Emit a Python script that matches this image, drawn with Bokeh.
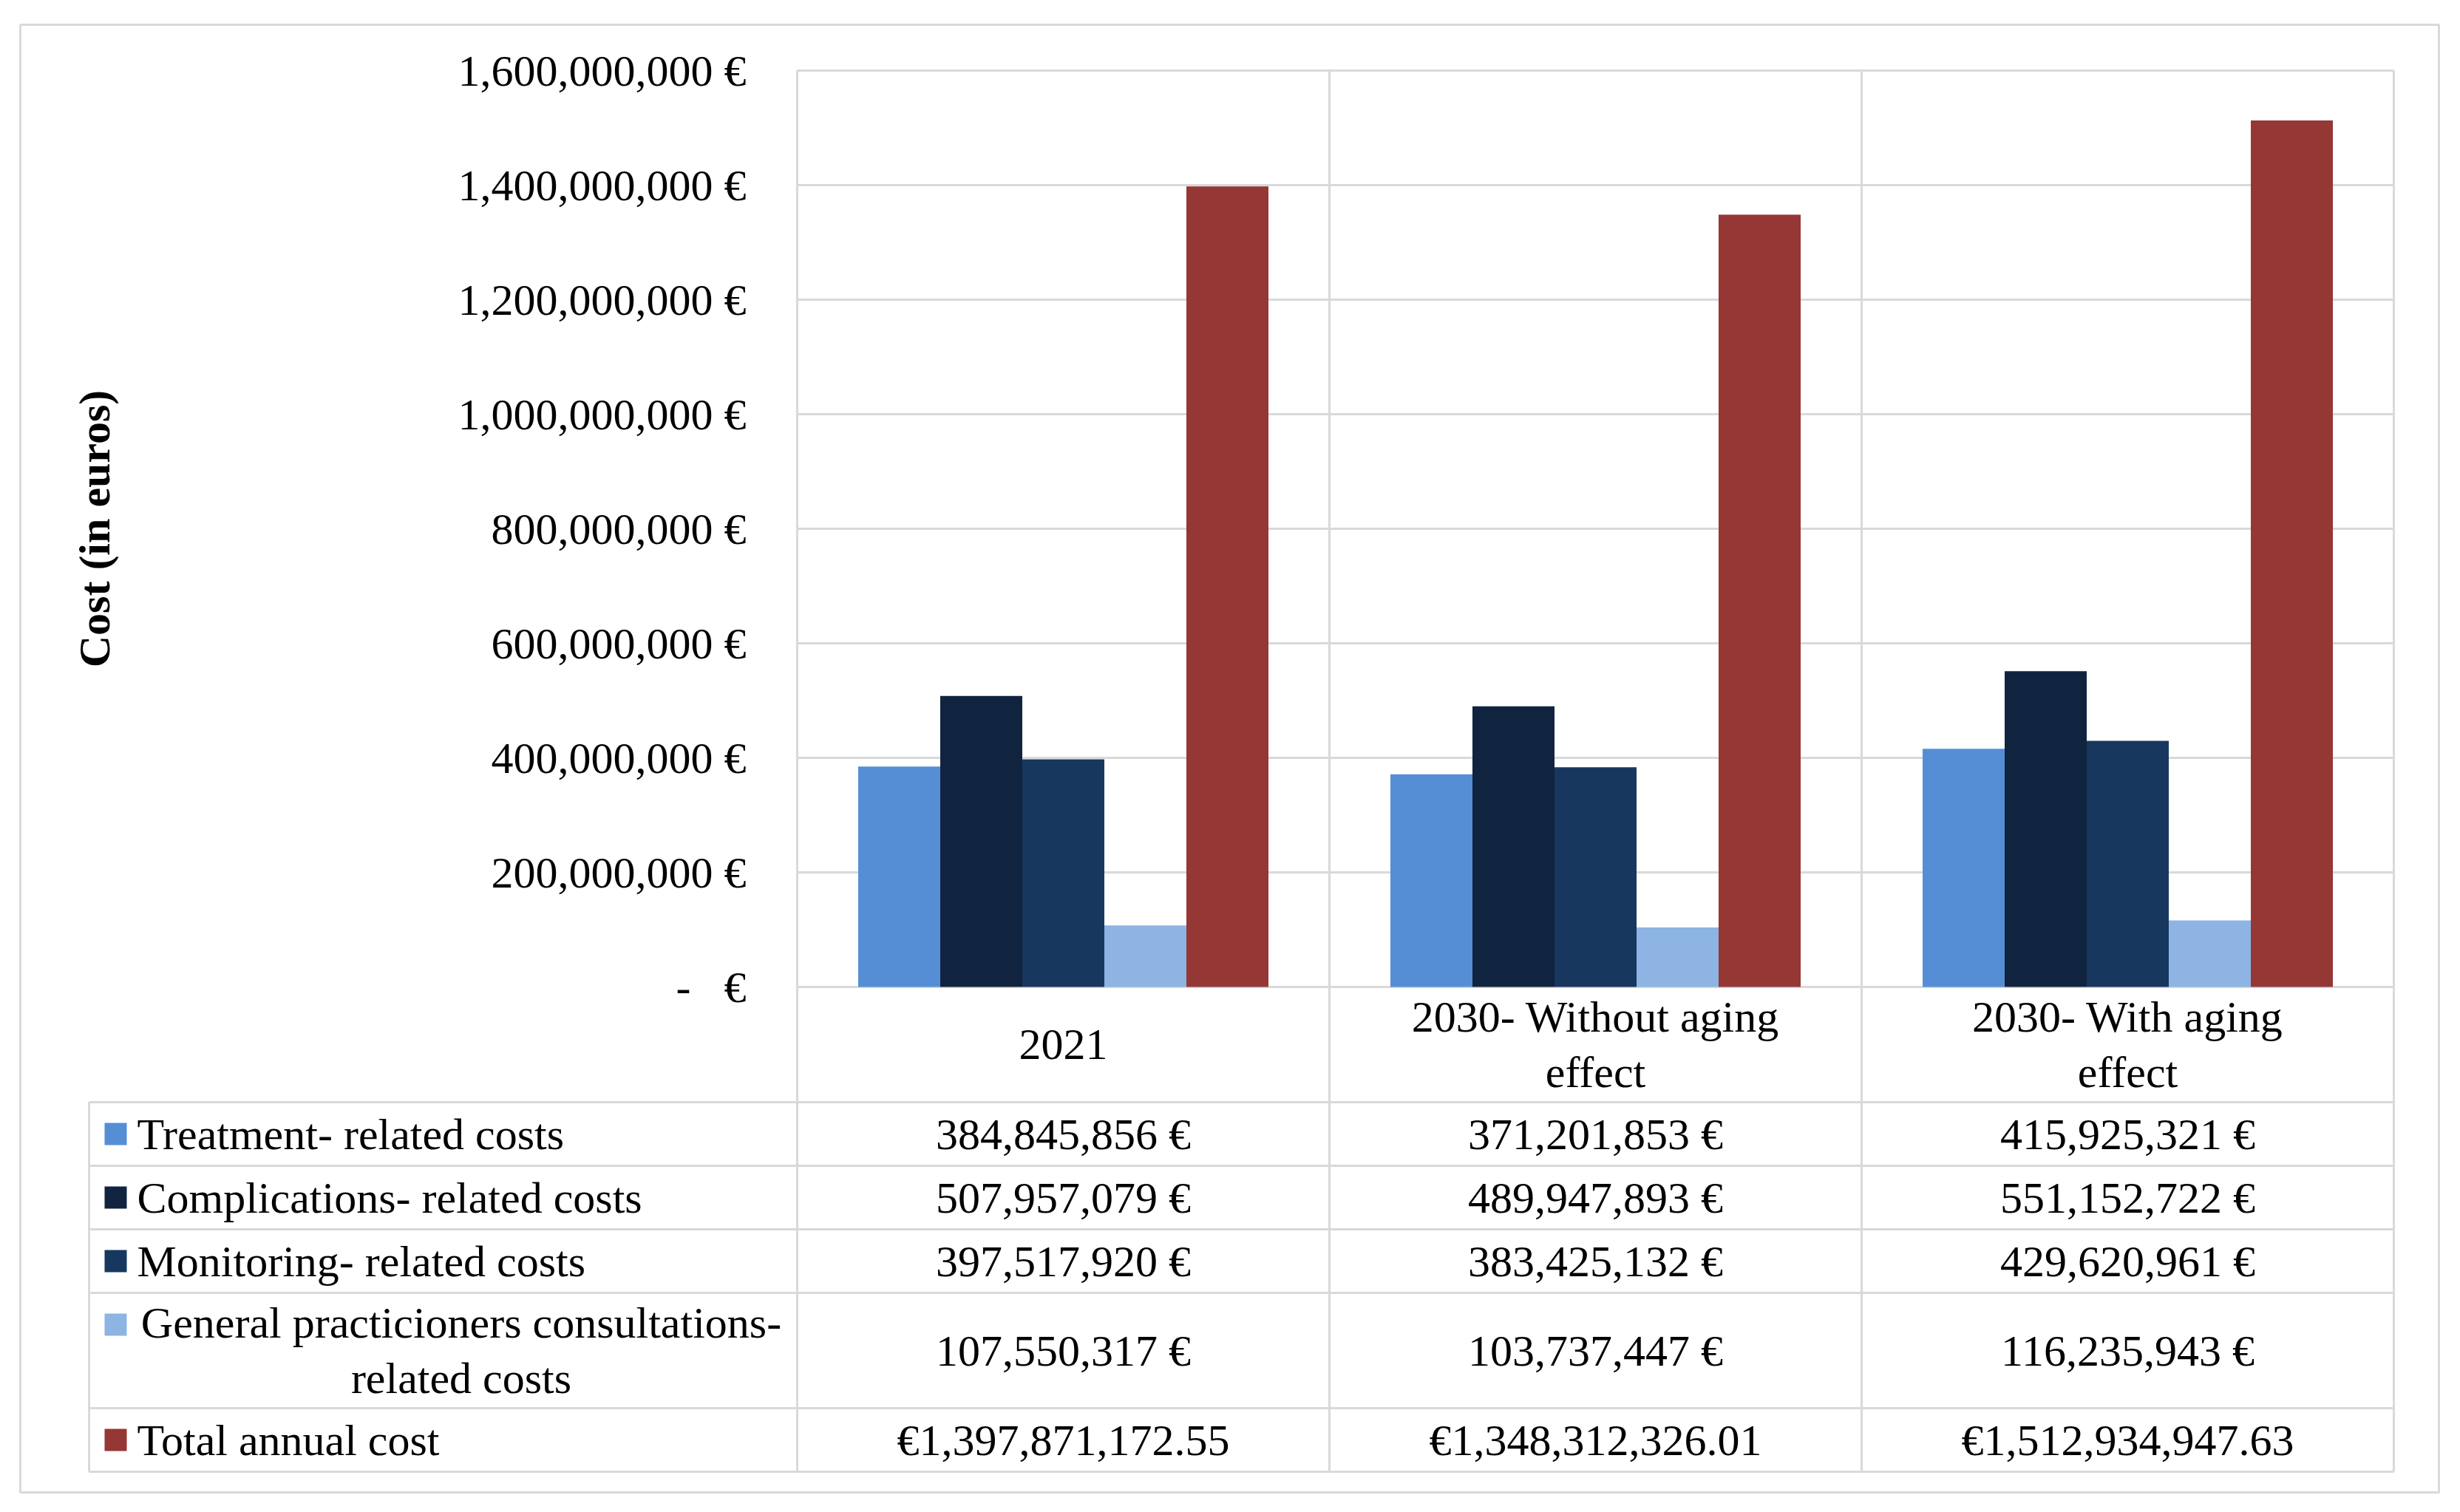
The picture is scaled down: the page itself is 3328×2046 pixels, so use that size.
from bokeh.plotting import figure
from bokeh.models import Range1d, LinearAxis, FixedTicker
from bokeh.embed import file_html
from bokeh.resources import INLINE
from bokeh.core.properties import value

# ---------------- data ----------------
categories = ["2021", "2030- Without aging\neffect", "2030- With aging\neffect"]
series_names = [
    "Treatment- related costs",
    "Complications- related costs",
    "Monitoring- related costs",
    "General practicioners consultations-\nrelated costs",
    "Total annual cost",
]
treatment = [384845856, 371201853, 415925321]
complications = [507957079, 489947893, 551152722]
monitoring = [397517920, 383425132, 429620961]
gp_consultations = [107550317, 103737447, 116235943]
total_annual = [1397871172.55, 1348312326.01, 1512934947.63]
y_ticks = [0, 200000000, 400000000, 600000000, 800000000,
           1000000000, 1200000000, 1400000000, 1600000000]

series_values = [treatment, complications, monitoring, gp_consultations, total_annual]
colors = ["#558ED5", "#10243F", "#17375E", "#8EB4E3", "#953735"]

# ---------------- layout (pixels) ----------------
W, H = 3312, 2028
B_LEFT, B_TOP = 27, 33
FW, FH = 3272, 1986                # outer box (frame) size
B_RIGHT = W - B_LEFT - FW
B_BOTTOM = H - B_TOP - FH
COL = 720                           # width of one category column
CHART_LEFT = 1051                   # chart left offset inside frame
CHART_TOP = 62                      # chart top offset inside frame
CHART_H = 1240                      # chart height (0 .. max tick)
HEADER_H, ROW_H, DBL_H = 156, 86, 156
TABLE_LEFT = 93                     # table left offset inside frame
KEY_CX, TEXT_X0, TEXT_X1 = 129, 158, 1035
FONT = "Liberation Serif"
FS = "60px"
GRID = "#d9d9d9"

ymax = y_ticks[-1]
k = ymax / CHART_H
below = FH - CHART_TOP - CHART_H

p = figure(width=W, height=H, output_backend="svg", toolbar_location=None,
           x_axis_type=None, y_axis_type=None,
           x_range=Range1d(-CHART_LEFT / COL, (FW - CHART_LEFT) / COL),
           y_range=Range1d(-below * k, (CHART_TOP + CHART_H) * k),
           min_border_left=B_LEFT, min_border_top=B_TOP,
           min_border_right=B_RIGHT, min_border_bottom=B_BOTTOM,
           outline_line_color=GRID, outline_line_width=3)
p.extra_y_ranges = {"tbl": Range1d(-below, CHART_TOP + CHART_H)}

ncat = len(categories)
nser = len(series_names)

# ---------------- grid / table lines ----------------
p.segment(x0=[0] * len(y_ticks), x1=[ncat] * len(y_ticks), y0=y_ticks, y1=y_ticks,
          line_color=GRID, line_width=3)

row_heights = [ROW_H, ROW_H, ROW_H, DBL_H, ROW_H]
row_tops = []
y = -HEADER_H
for h in row_heights:
    row_tops.append(y)
    y -= h
table_bottom = y
row_bottoms = [t - h for t, h in zip(row_tops, row_heights)]
row_centers = [(t + b) / 2 for t, b in zip(row_tops, row_bottoms)]
tbl_left = (TABLE_LEFT - CHART_LEFT) / COL

vx = list(range(ncat + 1))
p.segment(x0=vx, x1=vx, y0=[CHART_H] * len(vx), y1=[table_bottom] * len(vx),
          line_color=GRID, line_width=3, y_range_name="tbl")
p.segment(x0=[tbl_left], x1=[tbl_left], y0=[-HEADER_H], y1=[table_bottom],
          line_color=GRID, line_width=3, y_range_name="tbl")
hy = [-HEADER_H] + row_bottoms
p.segment(x0=[tbl_left] * len(hy), x1=[ncat] * len(hy), y0=hy, y1=hy,
          line_color=GRID, line_width=3, y_range_name="tbl")

# ---------------- bars ----------------
BAR_W = 111 / COL
for s, (vals, col) in enumerate(zip(series_values, colors)):
    xs = [c + 0.5 + (s - (nser - 1) / 2) * BAR_W for c in range(ncat)]
    p.vbar(x=xs, top=vals, bottom=0, width=BAR_W, fill_color=col, line_color=None)

# ---------------- y axis ----------------
def fmt_tick(v):
    if v == 0:
        return "-\u00a0\u00a0\u00a0€"
    return f"{v:,} €"

yaxis = LinearAxis(ticker=FixedTicker(ticks=y_ticks), fixed_location=0,
                   bounds=(0, ymax), axis_label="Cost (in euros)")
yaxis.major_label_overrides = {t: fmt_tick(t) for t in y_ticks}
yaxis.axis_line_color = None
yaxis.major_tick_line_color = None
yaxis.minor_tick_line_color = None
yaxis.major_tick_out = 0
yaxis.major_tick_in = 0
yaxis.major_label_standoff = 69
yaxis.major_label_text_font = FONT
yaxis.major_label_text_font_size = FS
yaxis.major_label_text_color = "black"
yaxis.axis_label_text_font = FONT
yaxis.axis_label_text_font_size = FS
yaxis.axis_label_text_font_style = "bold"
yaxis.axis_label_text_color = "black"
yaxis.axis_label_standoff = 456
p.add_layout(yaxis, "left")

# ---------------- table texts ----------------
txt = dict(text_font=value(FONT), text_font_size=value(FS), text_color="black",
           text_line_height=1.13, y_range_name="tbl")

# header (category names)
p.text(x=[c + 0.5 for c in range(ncat)], y=[-HEADER_H / 2] * ncat, text=categories,
       text_align="center", text_baseline="middle", **txt)

# values
def fmt_val(v, is_total):
    return f"€{v:,.2f}" if is_total else f"{v:,} €"

vx_, vy_, vt_ = [], [], []
for s, vals in enumerate(series_values):
    for c, v in enumerate(vals):
        vx_.append(c + 0.5)
        vy_.append(row_centers[s])
        vt_.append(fmt_val(v, s == nser - 1))
p.text(x=vx_, y=vy_, text=vt_, text_align="center", text_baseline="middle", **txt)

# legend keys
key_x = (KEY_CX - CHART_LEFT) / COL
p.rect(x=[key_x] * nser, y=[t - ROW_H / 2 for t in row_tops], width=30, height=30,
       width_units="screen", height_units="screen", fill_color=colors, line_color=None,
       y_range_name="tbl")

# legend labels
single = [i for i, n in enumerate(series_names) if "\n" not in n]
multi = [i for i, n in enumerate(series_names) if "\n" in n]
p.text(x=[(TEXT_X0 - CHART_LEFT) / COL] * len(single), y=[row_centers[i] for i in single],
       text=[series_names[i] for i in single], text_align="left", text_baseline="middle", **txt)
p.text(x=[((TEXT_X0 + TEXT_X1) / 2 - CHART_LEFT) / COL] * len(multi),
       y=[row_centers[i] for i in multi],
       text=[series_names[i] for i in multi], text_align="center", text_baseline="middle", **txt)

open("out.html", "w").write(file_html(p, INLINE))
